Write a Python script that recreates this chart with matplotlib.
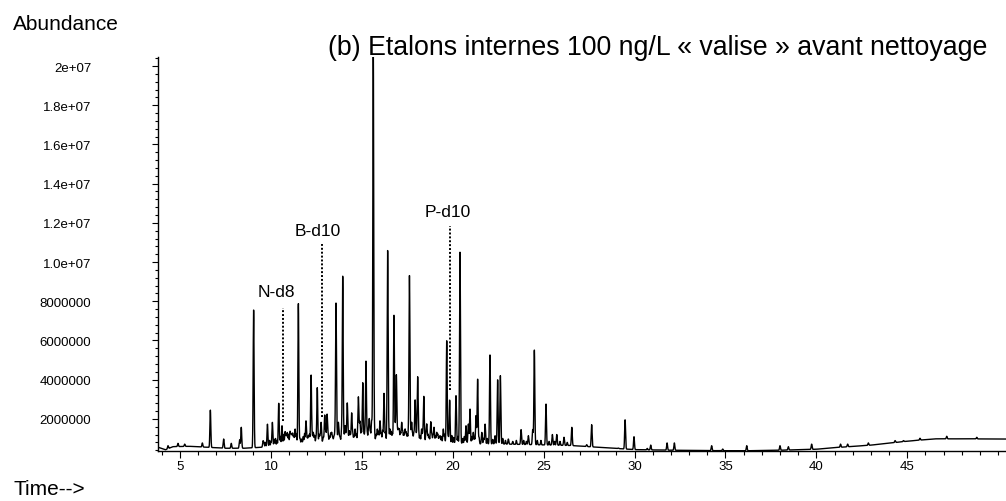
import numpy as np
import matplotlib
matplotlib.use("Agg")
import matplotlib.pyplot as plt
from matplotlib.ticker import MultipleLocator, FixedLocator

plt.rcParams['font.family'] = ['Liberation Sans', 'DejaVu Sans']

# ---------------- data ----------------
# baseline of the chromatogram (time in min, abundance)
baseline_t = [3.8, 4.2, 4.6, 5.5, 6.5, 7.5, 8.5, 9.5, 10.5, 11.5, 12.5, 13.5,
              14.5, 15.5, 16.5, 17.5, 18.5, 19.5, 20.5, 21.5, 22.5, 23.5,
              24.5, 25.5, 26.5, 28.0, 30.0, 32.0, 34.0, 36.0, 38.0, 40.0,
              41.0, 43.0, 45.0, 46.5, 48.0, 50.5]
baseline_v = [0.55e6, 0.42e6, 0.58e6, 0.6e6, 0.55e6, 0.5e6, 0.5e6, 0.55e6,
              0.65e6, 0.75e6, 0.8e6, 0.82e6, 0.85e6, 0.88e6, 0.9e6, 0.9e6,
              0.85e6, 0.8e6, 0.75e6, 0.72e6, 0.72e6, 0.7e6, 0.68e6, 0.66e6,
              0.64e6, 0.55e6, 0.43e6, 0.4e6, 0.38e6, 0.37e6, 0.4e6, 0.45e6,
              0.53e6, 0.66e6, 0.86e6, 0.98e6, 0.98e6, 0.97e6]

# main peaks: retention times (min) and apex abundances
peak_t = [4.34, 4.89, 5.26, 6.23, 6.67, 7.40, 7.82, 8.28, 8.37, 9.05, 9.57,
          9.81, 10.08, 10.43, 10.61, 10.78, 10.90, 11.05, 11.14, 11.20, 11.33,
          11.51, 11.69, 11.93, 12.06, 12.21, 12.33, 12.55, 12.76, 12.88,
          12.96, 13.09, 13.34, 13.47, 13.58, 13.71, 13.80, 13.95, 14.08,
          14.20, 14.31, 14.44, 14.63, 14.81, 14.90, 15.05, 15.23, 15.41,
          15.54, 15.63, 15.85, 16.00, 16.22, 16.42, 16.55, 16.77, 16.90,
          17.01, 17.19, 17.38, 17.62, 17.74, 17.93, 18.07, 18.29, 18.41,
          18.57, 18.79, 18.97, 19.12, 19.30, 19.48, 19.67, 19.83, 20.18,
          20.40, 20.73, 20.86, 20.95, 21.13, 21.28, 21.37, 21.60, 21.78,
          22.05, 22.33, 22.47, 22.62, 23.06, 23.76, 24.16, 24.40, 24.49,
          25.13, 25.48, 25.72, 26.12, 26.55, 27.37, 27.64, 28.70, 29.10,
          29.48, 29.97, 30.70, 30.89, 31.79, 32.19, 34.24, 34.85, 36.17,
          38.00, 38.46, 39.74, 41.33, 41.72, 42.86, 44.33, 44.79, 45.70,
          47.17, 48.82]
peak_v = [0.63e6, 0.75e6, 0.71e6, 0.77e6, 2.45e6, 0.97e6, 0.75e6, 0.93e6,
          1.57e6, 7.57e6, 0.88e6, 1.73e6, 1.82e6, 2.8e6, 1.65e6, 1.35e6,
          1.3e6, 1.35e6, 1.14e6, 1.25e6, 1.48e6, 7.9e6, 0.97e6, 1.9e6,
          1.14e6, 4.24e6, 1.31e6, 3.6e6, 1.82e6, 1.06e6, 2.19e6, 2.24e6,
          1.31e6, 1.14e6, 7.9e6, 1.82e6, 1.06e6, 9.3e6, 1.65e6, 2.8e6,
          1.39e6, 2.3e6, 1.48e6, 3.1e6, 1.82e6, 3.85e6, 4.95e6, 1.99e6,
          1.9e6, 21.0e6, 1.48e6, 1.9e6, 3.3e6, 10.58e6, 1.48e6, 7.3e6,
          4.24e6, 1.48e6, 1.82e6, 1.48e6, 9.3e6, 1.82e6, 2.97e6, 4.15e6,
          1.48e6, 3.15e6, 1.73e6, 1.85e6, 1.57e6, 1.31e6, 1.14e6, 1.48e6,
          6.0e6, 2.96e6, 3.18e6, 10.5e6, 1.65e6, 1.73e6, 2.5e6, 1.31e6,
          2.16e6, 4.03e6, 1.31e6, 1.73e6, 5.27e6, 1.14e6, 4.0e6, 4.2e6,
          0.97e6, 1.45e6, 1.14e6, 1.45e6, 5.52e6, 2.76e6, 1.2e6, 1.2e6,
          1.06e6, 1.57e6, 0.68e6, 1.7e6, 0.51e6, 0.51e6, 1.95e6, 1.09e6,
          0.49e6, 0.66e6, 0.77e6, 0.77e6, 0.63e6, 0.46e6, 0.63e6, 0.63e6,
          0.58e6, 0.71e6, 0.71e6, 0.71e6, 0.77e6, 0.89e6, 0.89e6, 1.01e6,
          1.11e6, 1.06e6]

# small "grass" peaks of the unresolved background
grass_t = [9.62, 9.70, 9.92, 10.00, 10.18, 10.25, 10.33, 10.52, 10.70, 10.84,
           10.97, 11.10, 11.26, 11.40, 11.60, 11.78, 11.85, 12.00, 12.12,
           12.27, 12.40, 12.48, 12.65, 12.70, 13.02, 13.15, 13.22, 13.28,
           13.40, 13.52, 13.64, 13.76, 13.88, 14.02, 14.14, 14.25, 14.37,
           14.50, 14.56, 14.70, 14.76, 14.86, 14.97, 15.12, 15.17, 15.30,
           15.36, 15.47, 15.70, 15.78, 15.92, 16.07, 16.14, 16.30, 16.48,
           16.62, 16.68, 16.84, 16.96, 17.06, 17.12, 17.25, 17.31, 17.44,
           17.50, 17.56, 17.68, 17.80, 17.86, 18.00, 18.13, 18.20, 18.35,
           18.52, 18.64, 18.70, 18.85, 18.91, 19.05, 19.18, 19.24, 19.38,
           19.55, 19.75, 19.95, 20.05, 20.28, 20.55, 20.64, 21.05, 21.20,
           21.45, 21.70, 21.90, 22.20, 22.75, 22.90, 23.30, 23.50, 23.90,
           24.05, 24.65, 24.85, 25.30, 25.60, 25.90, 26.30]
grass_v = [0.75e6, 0.8e6, 0.9e6, 0.85e6, 0.95e6, 1.0e6, 0.9e6, 1.1e6, 1.2e6,
           1.15e6, 1.2e6, 1.05e6, 1.1e6, 1.2e6, 1.0e6, 1.1e6, 1.25e6, 1.0e6,
           1.2e6, 1.1e6, 1.15e6, 1.05e6, 1.2e6, 1.1e6, 1.3e6, 1.2e6, 1.1e6,
           1.25e6, 1.05e6, 1.2e6, 1.15e6, 1.0e6, 1.3e6, 1.1e6, 1.2e6, 1.05e6,
           1.15e6, 1.3e6, 1.1e6, 1.2e6, 1.05e6, 1.25e6, 1.35e6, 1.2e6, 1.3e6,
           1.25e6, 1.4e6, 1.3e6, 1.3e6, 1.2e6, 1.35e6, 1.25e6, 1.4e6, 1.3e6,
           1.4e6, 1.35e6, 1.25e6, 1.5e6, 1.3e6, 1.4e6, 1.3e6, 1.35e6, 1.25e6,
           1.3e6, 1.2e6, 1.25e6, 1.3e6, 1.2e6, 1.3e6, 1.2e6, 1.3e6, 1.15e6,
           1.2e6, 1.15e6, 1.2e6, 1.1e6, 1.2e6, 1.1e6, 1.1e6, 1.2e6, 1.05e6,
           1.1e6, 1.2e6, 1.1e6, 1.15e6, 1.05e6, 1.1e6, 1.0e6, 1.1e6, 1.1e6,
           1.0e6, 1.05e6, 1.0e6, 1.0e6, 0.95e6, 1.0e6, 0.9e6, 0.85e6, 0.9e6,
           0.9e6, 0.85e6, 0.9e6, 0.9e6, 0.85e6, 0.85e6, 0.85e6, 0.8e6]

# internal standard annotations
std_labels = ["N-d8", "B-d10", "P-d10"]
std_t = [10.68, 12.83, 19.85]
std_line_top = [7.65e6, 10.9e6, 11.85e6]
std_line_bottom = [1.9e6, 2.08e6, 3.48e6]
std_label_t = [10.30, 12.60, 19.72]
std_label_v = [8.5e6, 11.6e6, 12.6e6]

y_ticks = [2e6, 4e6, 6e6, 8e6, 1.0e7, 1.2e7, 1.4e7, 1.6e7, 1.8e7, 2e7]
y_ticklabels = ["2000000", "4000000", "6000000", "8000000", "1.0e+07",
                "1.2e+07", "1.4e+07", "1.6e+07", "1.8e+07", "2e+07"]
x_ticks = [5, 10, 15, 20, 25, 30, 35, 40, 45]
x_ticklabels = ["5", "10", "15", "20", "25", "30", "35", "40", "45"]

title = "(b) Etalons internes 100 ng/L « valise » avant nettoyage"

# ---------------- build trace ----------------
t = np.arange(3.8, 50.5, 0.004)
base = np.interp(t, baseline_t, baseline_v)
signal = base.copy()
for pts, pvs, sigma in ((peak_t, peak_v, 0.025), (grass_t, grass_v, 0.02)):
    for pt, pv in zip(pts, pvs):
        amp = pv - np.interp(pt, baseline_t, baseline_v)
        signal += amp * np.exp(-0.5 * ((t - pt) / sigma) ** 2)

# ---------------- figure ----------------
W, H = 1006, 502
fig = plt.figure(figsize=(W / 100, H / 100), dpi=100)
ax = fig.add_axes([158 / W, 50 / H, 848 / W, 394 / H])
ax.plot(t, signal, color='black', lw=1.0)

for lab, st, top, bot, lt, lv in zip(std_labels, std_t, std_line_top,
                                     std_line_bottom, std_label_t, std_label_v):
    ax.vlines(st, bot, top, colors='black', linestyles=(0, (1, 1)), lw=1.4)
    ax.text(lt, lv, lab, ha='center', va='center', fontsize=12.5)

ax.set_xlim(3.79, 50.43)
ax.set_ylim(0.36e6, 2.046e7)
for s in ['top', 'right']:
    ax.spines[s].set_visible(False)
for s in ['left', 'bottom']:
    ax.spines[s].set_linewidth(1.0)

ax.xaxis.set_major_locator(FixedLocator(x_ticks))
ax.set_xticklabels(x_ticklabels)
ax.xaxis.set_minor_locator(MultipleLocator(1))
ax.yaxis.set_major_locator(FixedLocator(y_ticks))
ax.set_yticklabels(y_ticklabels)
ax.yaxis.set_minor_locator(MultipleLocator(4e5))

ax.tick_params(axis='x', which='major', length=5, width=0.8, pad=1.5,
               labelsize=9.5, direction='out')
ax.tick_params(axis='x', which='minor', length=3, width=0.8, direction='out')
ax.tick_params(axis='y', which='major', length=4, width=0.8, pad=44,
               labelsize=9.5, direction='out')
ax.tick_params(axis='y', which='minor', length=2, width=0.8, direction='out')

fig.text(13 / W, 1 - 30 / H, "Abundance", fontsize=15, va='baseline', ha='left')
fig.text(13 / W, 1 - 495 / H, "Time-->", fontsize=15, va='baseline', ha='left')
fig.text(328 / W, 1 - 55 / H, title, fontsize=19.3, va='baseline', ha='left')

fig.savefig("out.png", dpi=100)
